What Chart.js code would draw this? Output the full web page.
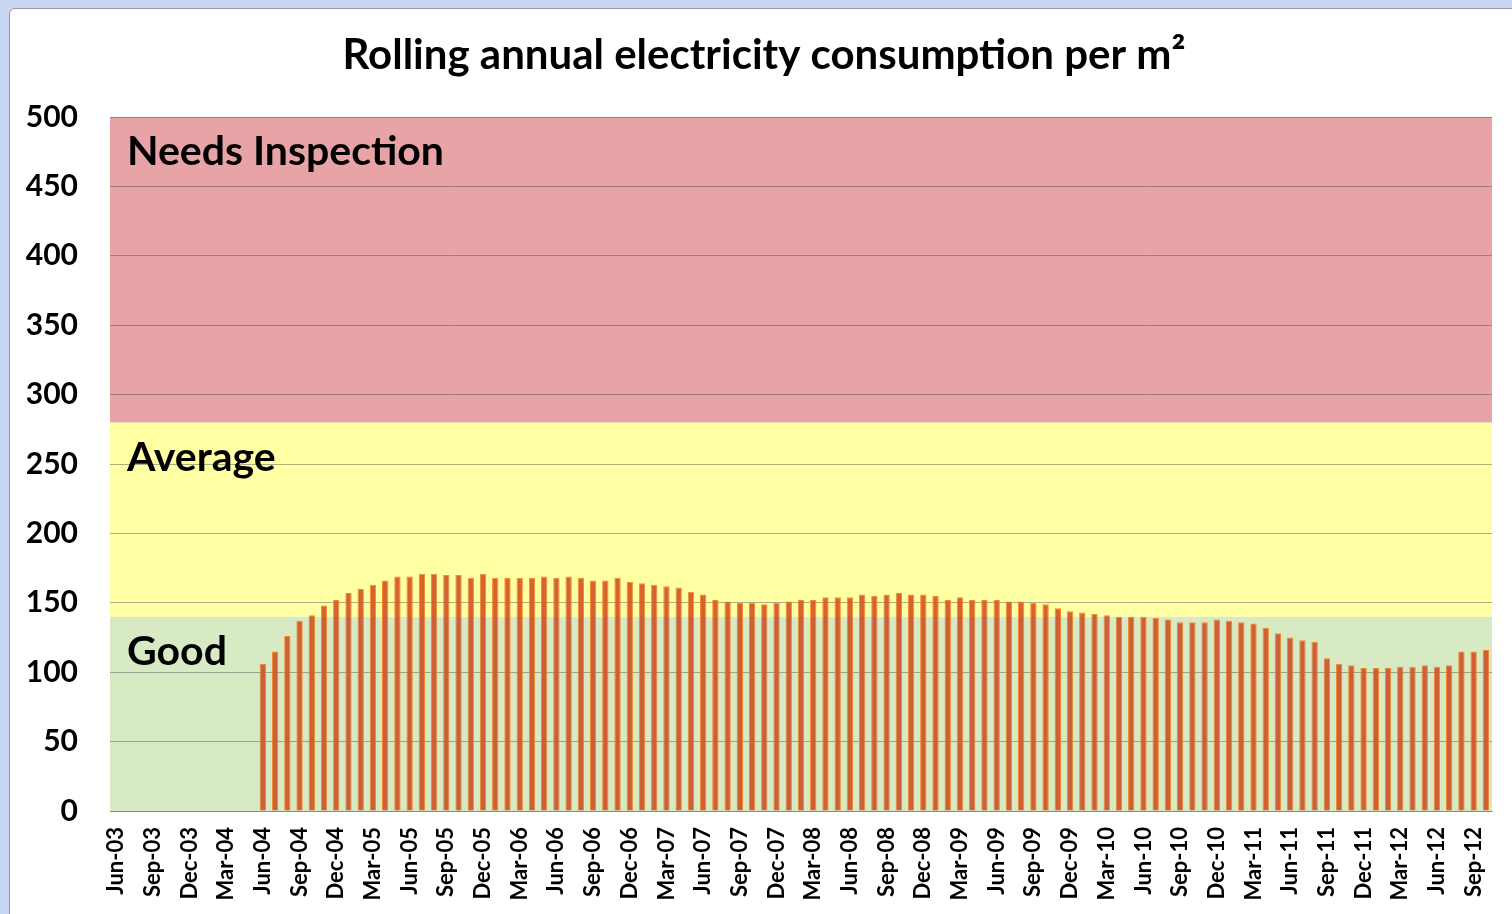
<!DOCTYPE html>
<html lang="en">
<head>
  <meta charset="UTF-8">
  <title>Rolling annual electricity consumption per m²</title>
  <script src="https://cdn.jsdelivr.net/npm/chart.js"></script>
  <style>
    html, body {
      margin: 0;
      padding: 0;
      width: 1512px;
      height: 914px;
      overflow: hidden;
      background: #c9d6f4;
    }

    .frame {
      position: absolute;
      left: 9px;
      top: 8px;
      width: 1600px;
      height: 1000px;
      background: #ffffff;
      border: 1px solid #9a9a9a;
      border-radius: 6px;
    }

    .wrap {
      position: absolute;
      left: 0;
      top: 0;
      width: 1512px;
      height: 914px;
    }
  </style>
</head>
<body>
  <div class="frame"></div>
  <div class="wrap">
    <canvas id="chart" width="1512" height="914"></canvas>
  </div>

  <script>
    const titleText = 'Rolling annual electricity consumption per m²';

    // monthly categories, Jun-03 .. Oct-12
    const categories = [
      'Jun-03', 'Jul-03', 'Aug-03', 'Sep-03', 'Oct-03', 'Nov-03', 'Dec-03',
      'Jan-04', 'Feb-04', 'Mar-04', 'Apr-04', 'May-04', 'Jun-04', 'Jul-04', 'Aug-04', 'Sep-04', 'Oct-04', 'Nov-04', 'Dec-04',
      'Jan-05', 'Feb-05', 'Mar-05', 'Apr-05', 'May-05', 'Jun-05', 'Jul-05', 'Aug-05', 'Sep-05', 'Oct-05', 'Nov-05', 'Dec-05',
      'Jan-06', 'Feb-06', 'Mar-06', 'Apr-06', 'May-06', 'Jun-06', 'Jul-06', 'Aug-06', 'Sep-06', 'Oct-06', 'Nov-06', 'Dec-06',
      'Jan-07', 'Feb-07', 'Mar-07', 'Apr-07', 'May-07', 'Jun-07', 'Jul-07', 'Aug-07', 'Sep-07', 'Oct-07', 'Nov-07', 'Dec-07',
      'Jan-08', 'Feb-08', 'Mar-08', 'Apr-08', 'May-08', 'Jun-08', 'Jul-08', 'Aug-08', 'Sep-08', 'Oct-08', 'Nov-08', 'Dec-08',
      'Jan-09', 'Feb-09', 'Mar-09', 'Apr-09', 'May-09', 'Jun-09', 'Jul-09', 'Aug-09', 'Sep-09', 'Oct-09', 'Nov-09', 'Dec-09',
      'Jan-10', 'Feb-10', 'Mar-10', 'Apr-10', 'May-10', 'Jun-10', 'Jul-10', 'Aug-10', 'Sep-10', 'Oct-10', 'Nov-10', 'Dec-10',
      'Jan-11', 'Feb-11', 'Mar-11', 'Apr-11', 'May-11', 'Jun-11', 'Jul-11', 'Aug-11', 'Sep-11', 'Oct-11', 'Nov-11', 'Dec-11',
      'Jan-12', 'Feb-12', 'Mar-12', 'Apr-12', 'May-12', 'Jun-12', 'Jul-12', 'Aug-12', 'Sep-12', 'Oct-12'
    ];

    // rolling annual kWh per m2 (no data before Jun-04)
    const consumption = [
      null, null, null, null, null, null, null,
      null, null, null, null, null, 106, 115, 126, 137, 141, 148, 152,
      157, 160, 163, 166, 169, 169, 171, 171, 170, 170, 168, 171,
      168, 168, 168, 168, 169, 168, 169, 168, 166, 166, 168, 165,
      164, 163, 162, 161, 158, 156, 152, 151, 150, 150, 149, 150,
      151, 152, 152, 154, 154, 154, 156, 155, 156, 157, 156, 156,
      155, 152, 154, 152, 152, 152, 151, 151, 150, 149, 146, 144,
      143, 142, 141, 140, 140, 140, 139, 138, 136, 136, 136, 138,
      137, 136, 135, 132, 128, 125, 123, 122, 110, 106, 105, 103,
      103, 103, 104, 104, 105, 104, 105, 115, 115, 116
    ];

    const yTicks = [0, 50, 100, 150, 200, 250, 300, 350, 400, 450, 500];

    // rating bands
    const bandNames = ['Good', 'Average', 'Needs Inspection'];
    const bandFrom = [0, 140, 280];
    const bandTo = [140, 280, 500];
    const bandColors = ['#d7eac4', '#ffffa4', '#e8a4a6'];

    const fontFamily = 'Lato, "Open Sans", sans-serif';

    const bandsPlugin = {
      id: 'bands',
      beforeDraw(chart) {
        const ctx = chart.ctx;
        const area = chart.chartArea;
        const y = chart.scales.y;
        ctx.save();
        for (let i = 0; i < bandNames.length; i++) {
          const top = y.getPixelForValue(bandTo[i]);
          const bottom = y.getPixelForValue(bandFrom[i]);
          ctx.fillStyle = bandColors[i];
          ctx.fillRect(area.left, top, area.right - area.left, bottom - top);
        }
        ctx.restore();
      },
      afterDatasetsDraw(chart) {
        const ctx = chart.ctx;
        const area = chart.chartArea;
        const y = chart.scales.y;
        ctx.save();
        // light tint over the bars, like the translucent bands in the original
        ctx.globalAlpha = 0.15;
        for (let i = 0; i < bandNames.length; i++) {
          const top = y.getPixelForValue(bandTo[i]);
          const bottom = y.getPixelForValue(bandFrom[i]);
          ctx.fillStyle = bandColors[i];
          ctx.fillRect(area.left, top, area.right - area.left, bottom - top);
        }
        ctx.globalAlpha = 1;
        ctx.fillStyle = '#000';
        ctx.font = 'bold 41px ' + fontFamily;
        ctx.textBaseline = 'middle';
        ctx.textAlign = 'left';
        for (let i = 0; i < bandNames.length; i++) {
          const top = y.getPixelForValue(bandTo[i]);
          ctx.fillText(bandNames[i], area.left + 17, top + 35);
        }
        // chart title, centred a little left of the plot middle as in the original
        ctx.font = 'bold 42px ' + fontFamily;
        ctx.textAlign = 'center';
        ctx.fillText(titleText, (area.left + area.right) / 2 - 37, 55);
        ctx.restore();
      }
    };

    new Chart(document.getElementById('chart'), {
      type: 'bar',
      data: {
        labels: categories,
        datasets: [{
          label: 'Consumption',
          data: consumption,
          backgroundColor: 'rgba(204, 62, 22, 0.95)',
          borderColor: '#f27a14',
          borderWidth: 1,
          borderSkipped: 'bottom',
          barPercentage: 0.52,
          categoryPercentage: 1
        }]
      },
      options: {
        responsive: false,
        animation: false,
        layout: { padding: { left: 0, right: 20, top: 117, bottom: 0 } },
        plugins: {
          legend: { display: false },
          tooltip: { enabled: false },
          title: { display: false }
        },
        scales: {
          x: {
            grid: { display: false },
            border: { display: true, color: 'rgba(120, 120, 120, 0.6)' },
            ticks: {
              autoSkip: false,
              minRotation: 90,
              maxRotation: 90,
              padding: 8,
              color: '#000',
              font: { family: fontFamily, size: 22, weight: 'bold' },
              callback: function (val, idx) {
                return idx % 3 === 0 ? categories[idx] : '';
              }
            },
            afterFit: function (scale) {
              scale.height = 103;
              scale.paddingLeft = 0;
              scale.paddingRight = 0;
            }
          },
          y: {
            min: yTicks[0],
            max: yTicks[yTicks.length - 1],
            afterBuildTicks: function (scale) {
              scale.ticks = yTicks.map(v => ({ value: v }));
            },
            grid: { color: 'rgba(70, 70, 70, 0.5)', lineWidth: 1, drawTicks: false },
            border: { display: false },
            ticks: {
              padding: 32,
              color: '#000',
              font: { family: fontFamily, size: 30, weight: 'bold' }
            },
            afterFit: function (scale) {
              scale.width = 110;
              scale.paddingTop = 0;
              scale.paddingBottom = 0;
            }
          }
        }
      },
      plugins: [bandsPlugin]
    });
  </script>
</body>
</html>
